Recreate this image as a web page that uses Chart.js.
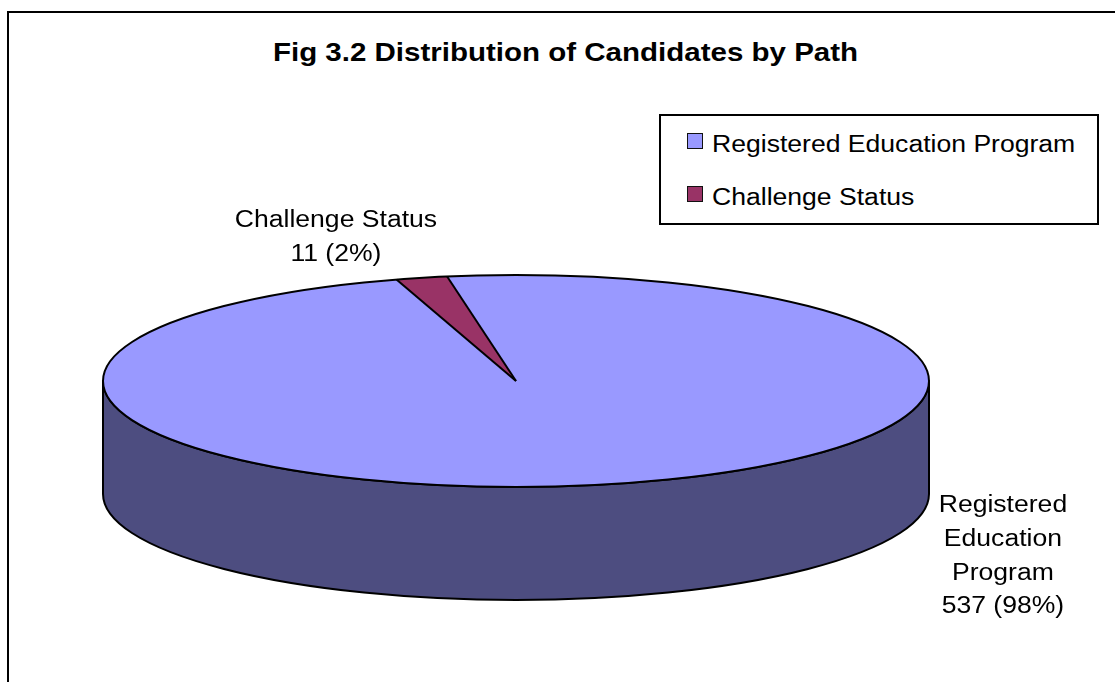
<!DOCTYPE html>
<html>
<head>
<meta charset="utf-8">
<title>Fig 3.2 Distribution of Candidates by Path</title>
<script src="https://cdn.jsdelivr.net/npm/chart.js@4.4.1/dist/chart.umd.min.js"></script>
<style>
  html, body { margin:0; padding:0; background:#fff; overflow:hidden; }
  body { width:1115px; height:682px; position:relative; font-family:"Liberation Sans", Arial, sans-serif; color:#000; }
  #frame { position:absolute; left:7px; top:11px; width:1300px; height:900px; border:2px solid #000; }
  #chartBox { position:absolute; left:0; top:0; width:1115px; height:682px; }
  #title { position:absolute; left:0; top:40px; width:1131px; text-align:center; font-weight:bold; font-size:25px; line-height:25px; white-space:nowrap; transform:scaleX(1.18); transform-origin:50% 50%; }
  #legend { position:absolute; left:659px; top:114px; width:440px; height:111px; box-sizing:border-box; border:2px solid #000; background:#fff; }
  .item { position:absolute; left:26px; height:23px; font-size:23px; line-height:23px; white-space:nowrap; }
  .swatch { position:absolute; left:0; top:0.5px; width:16px; height:16px; box-sizing:border-box; border:1.5px solid #111; }
  .txt { position:absolute; left:25px; top:0; transform:scaleX(1.155); transform-origin:0 50%; }
</style>
</head>
<body>
<div id="frame"></div>
<div id="title">Fig 3.2 Distribution of Candidates by Path</div>
<div id="chartBox"><canvas id="pieChart"></canvas></div>
<div id="legend"></div>
<script>
const labels = ["Registered Education Program", "Challenge Status"];
const counts = [537, 11];
const topColors = ["#9999FF", "#993366"];
const sideColors = ["#4D4D80", "#4D1A33"];
const labelLines = [["Registered", "Education", "Program"], ["Challenge Status"]];

// where each data label sits, relative to the top ellipse (in rx / ry units)
const LABEL_AT = [{x: 1.179, y: 1.236}, {x: -0.436, y: -1.453}];
const TILT = 0.2567;     // ry / rx of the top face
const LINE_H = 33.8;
const TEXT_STRETCH = 1.155;

function geom(chart){
  const a = chart.chartArea;
  const rx = (a.right - a.left) / 2;
  const ry = rx * TILT;
  return {
    cx: (a.left + a.right) / 2,
    cy: a.top + ry,
    rx, ry,
    depth: (a.bottom - a.top) - 2 * ry
  };
}

// parts of [s,e] that face the viewer (canvas angles 0..PI)
function frontParts(s, e){
  const out = [];
  for(let k=-2;k<=2;k++){
    const lo = Math.max(s, 2*Math.PI*k);
    const hi = Math.min(e, 2*Math.PI*k + Math.PI);
    if(hi > lo) out.push([lo, hi]);
  }
  return out;
}

const pie3d = {
  id: "pie3d",
  beforeDatasetsDraw(chart){
    const g = geom(chart);
    const ctx = chart.ctx;
    const arcs = chart.getDatasetMeta(0).data;
    ctx.save();
    ctx.lineWidth = 2;
    ctx.strokeStyle = "#000";
    ctx.lineJoin = "round";
    arcs.forEach((arc, i) => {
      frontParts(arc.startAngle, arc.endAngle).forEach(([a, b]) => {
        ctx.beginPath();
        ctx.ellipse(g.cx, g.cy, g.rx, g.ry, 0, a, b);
        ctx.lineTo(g.cx + g.rx*Math.cos(b), g.cy + g.ry*Math.sin(b) + g.depth);
        ctx.ellipse(g.cx, g.cy + g.depth, g.rx, g.ry, 0, b, a, true);
        ctx.closePath();
        ctx.fillStyle = sideColors[i];
        ctx.fill();
        ctx.stroke();
      });
    });
    ctx.restore();
    // squash the flat pie into the top face
    const a0 = arcs[0];
    ctx.save();
    ctx.translate(g.cx, g.cy);
    ctx.scale(g.rx / a0.outerRadius, g.ry / a0.outerRadius);
    ctx.translate(-a0.x, -a0.y);
  },
  afterDatasetsDraw(chart){
    const ctx = chart.ctx;
    ctx.restore();
    const g = geom(chart);
    const arcs = chart.getDatasetMeta(0).data;
    ctx.save();
    ctx.lineWidth = 2;
    ctx.strokeStyle = "#000";
    ctx.beginPath();
    ctx.ellipse(g.cx, g.cy, g.rx, g.ry, 0, 0, 2*Math.PI);
    ctx.stroke();
    arcs.forEach(arc => {
      ctx.beginPath();
      ctx.moveTo(g.cx, g.cy);
      ctx.lineTo(g.cx + g.rx*Math.cos(arc.startAngle), g.cy + g.ry*Math.sin(arc.startAngle));
      ctx.stroke();
    });

    const total = counts.reduce((s, v) => s + v, 0);
    ctx.fillStyle = "#000";
    ctx.font = '23px "Liberation Sans", Arial, sans-serif';
    ctx.textAlign = "center";
    ctx.textBaseline = "alphabetic";
    counts.forEach((v, i) => {
      const lines = labelLines[i].concat([`${v} (${Math.round(v / total * 100)}%)`]);
      const x = g.cx + LABEL_AT[i].x * g.rx;
      const y = g.cy + LABEL_AT[i].y * g.ry;
      lines.forEach((t, j) => {
        ctx.save();
        ctx.translate(x, y + j * LINE_H);
        ctx.scale(TEXT_STRETCH, 1);
        ctx.fillText(t, 0, 0);
        ctx.restore();
      });
    });
    ctx.restore();
  }
};

function buildLegend(){
  const box = document.getElementById("legend");
  labels.forEach((name, i) => {
    const item = document.createElement("div");
    item.className = "item";
    item.style.top = (16.5 + i * 53) + "px";
    const sw = document.createElement("div");
    sw.className = "swatch";
    sw.style.background = topColors[i];
    const txt = document.createElement("span");
    txt.className = "txt";
    txt.textContent = name;
    item.appendChild(sw);
    item.appendChild(txt);
    box.appendChild(item);
  });
}

const ctx = document.getElementById("pieChart").getContext("2d");
new Chart(ctx, {
  type: "pie",
  data: {
    labels,
    datasets: [{
      data: counts,
      backgroundColor: topColors,
      borderWidth: 0,
      clip: false
    }]
  },
  options: {
    responsive: true,
    maintainAspectRatio: false,
    animation: false,
    events: [],
    rotation: -9.6,
    layout: { padding: { left: 103, right: 186, top: 275, bottom: 82 } },
    plugins: {
      legend: { display: false },
      title: { display: false },
      tooltip: { enabled: false }
    }
  },
  plugins: [pie3d]
});

buildLegend();
</script>
</body>
</html>
